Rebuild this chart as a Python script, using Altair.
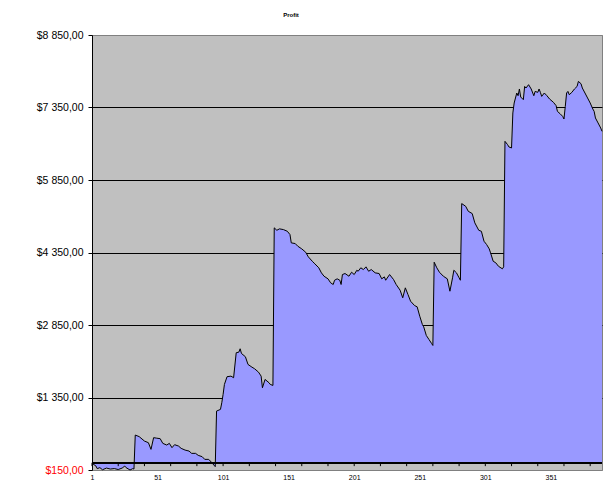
import altair as alt
import pandas as pd

# ---- data (category index, profit in $) ----
seg_a_idx = [1, 4, 5, 7, 9, 12, 15, 18, 21, 24, 26, 27, 30, 32, 33]
seg_a_val = [-10, -68, -122, -101, -145, -110, -130, -120, -140, -110, -68, -101, -150, -122, -130]

seg_b_idx = [34, 37, 41, 44, 46, 48, 50, 53, 55, 58, 60, 62, 64, 67, 69, 72, 75, 77, 80, 82, 85, 87, 90, 92, 95]
seg_b_val = [573, 540, 449, 415, 277, 519, 510, 498, 401, 366, 401, 312, 374, 345, 298, 262, 242, 194, 194, 153, 126, 70, 70, 14, -81]

seg_c_idx = [96, 99, 100, 101, 102, 104, 107, 109, 111, 113, 114, 115, 118, 120, 123, 125, 128, 130, 131, 133, 136, 137, 139]
seg_c_val = [1069, 1104, 1242, 1414, 1620, 1780, 1792, 1759, 2276, 2288, 2358, 2261, 2193, 2034, 1978, 1945, 1875, 1792, 1552, 1724, 1656, 1620, 1600]

seg_d_idx = [140, 142, 144, 147, 150, 152, 153, 156, 158, 161, 164, 166, 169, 171, 174, 176, 178, 181, 183, 185,
             186, 188, 190, 191, 192, 194, 197, 199, 201, 203, 204, 206, 208, 210, 212, 214, 217, 220, 222, 224,
             225, 228, 231, 233, 236, 238, 240, 242, 244, 247, 249, 251, 253, 254, 256, 258, 260, 261]
seg_d_val = [4860, 4810, 4839, 4824, 4789, 4721, 4549, 4535, 4479, 4425, 4355, 4260, 4169, 4115, 4033, 3929, 3859, 3805, 3723, 3688,
             3776, 3805, 3776, 3688, 3894, 3915, 3859, 3942, 3894, 3983, 3962, 4033, 3997, 4053, 3962, 3997, 3929, 3915, 3805, 3846,
             3776, 3894, 3791, 3688, 3570, 3413, 3619, 3481, 3342, 3253, 3226, 3032, 2860, 2813, 2633, 2551, 2468, 2427]

seg_e_idx = [262, 264, 266, 269, 272, 274, 276, 277, 279, 281, 282]
seg_e_val = [4149, 4033, 3942, 3859, 3805, 3549, 3826, 3983, 3929, 3826, 3776]

seg_f_idx = [283, 286, 288, 291, 293, 296, 298, 300, 302, 304, 305, 307, 309, 311, 314, 315]
seg_f_val = [5362, 5306, 5203, 5155, 4963, 4810, 4789, 4583, 4514, 4425, 4343, 4169, 4136, 4066, 4012, 4053]

seg_g_idx = [316, 318, 319, 321, 322, 323, 325, 326, 327, 328, 330, 331, 332, 334, 336, 338, 339, 341, 342, 343,
             344, 346, 348, 350, 353, 355, 356, 358, 360, 361, 362, 363, 364, 365, 367, 369, 371, 372, 374, 375,
             377, 379, 381, 383, 384, 385, 387, 389, 390]
seg_g_val = [6650, 6581, 6534, 6513, 7237, 7443, 7650, 7594, 7733, 7567, 7512, 7786, 7753, 7822, 7733, 7594, 7683, 7663, 7733, 7663,
             7580, 7650, 7594, 7526, 7456, 7388, 7270, 7222, 7167, 7112, 7373, 7650, 7683, 7615, 7663, 7733, 7786, 7890, 7842, 7753,
             7650, 7547, 7443, 7319, 7270, 7133, 7030, 6926, 6857]

idx = seg_a_idx + seg_b_idx + seg_c_idx + seg_d_idx + seg_e_idx + seg_f_idx + seg_g_idx
profit = seg_a_val + seg_b_val + seg_c_val + seg_d_val + seg_e_val + seg_f_val + seg_g_val

y_ticks = [-150, 1350, 2850, 4350, 5850, 7350, 8850]
x_labels = [1, 51, 101, 151, 201, 251, 301, 351]
x_ticks = [1, 21, 41, 61, 81, 101, 121, 141, 161, 181, 201, 221, 241, 261, 281, 301, 321, 341, 361, 381]

df = pd.DataFrame({"idx": idx, "profit": profit})
ticks_df = pd.DataFrame({"idx": x_ticks})

FONT = "Liberation Sans"
x_scale = alt.Scale(domain=[1, 390], nice=False, zero=False)
y_scale = alt.Scale(domain=[-150, 8850], nice=False, zero=False)

label_expr = "'$' + replace(replace(format(abs(datum.value), ',.2f'), ',', ' '), '.', ',')"

x_enc = alt.X(
    "idx:Q", scale=x_scale,
    axis=alt.Axis(values=x_labels, ticks=False, domain=False, grid=False, title=None,
                  labelFontSize=7, labelFont=FONT, labelColor="black", labelPadding=3,
                  labelFlush=False, labelOverlap=False),
)
y_enc = alt.Y(
    "profit:Q", scale=y_scale,
    axis=alt.Axis(values=y_ticks, title=None, grid=True,
                  gridColor={"condition": {"test": "datum.value == -150 || datum.value == 8850", "value": "#808080"}, "value": "black"},
                  gridOpacity=1, gridWidth=1,
                  domainColor="black", tickColor="black", tickSize=4,
                  labelExpr=label_expr, labelFontSize=10.5, labelFont=FONT,
                  labelColor={"condition": {"test": "datum.value < 0", "value": "red"}, "value": "black"},
                  labelPadding=5, labelFlush=False, labelOverlap=False),
)

base = alt.Chart(df)
area = base.mark_area(color="#9999FF", opacity=1).encode(x=x_enc, y=y_enc, y2=alt.datum(0))
line = base.mark_line(color="black", strokeWidth=1).encode(x=x_enc, y=y_enc)
zero_line = base.mark_rule(color="black", strokeWidth=1).encode(y=alt.datum(0))
x_tick_marks = alt.Chart(ticks_df).mark_rule(color="black", strokeWidth=1).encode(
    x=alt.X("idx:Q", scale=x_scale), y=alt.datum(0), y2=alt.datum(-70)
)

chart = (
    alt.layer(area, line, zero_line, x_tick_marks)
    .properties(
        width=510, height=435,
        title=alt.TitleParams("Profit", fontSize=6, font=FONT, fontWeight="bold", color="black",
                              anchor="middle", frame="group", dx=-56, offset=12),
        autosize=alt.AutoSizeParams(type="none"),
        padding={"left": 84, "top": 27, "right": 1, "bottom": 20},
        background="white",
    )
    .configure_view(fill="#C0C0C0", stroke="#808080", strokeWidth=1)
)

chart.save("out.html", embed_options={"renderer": "svg", "actions": False})
